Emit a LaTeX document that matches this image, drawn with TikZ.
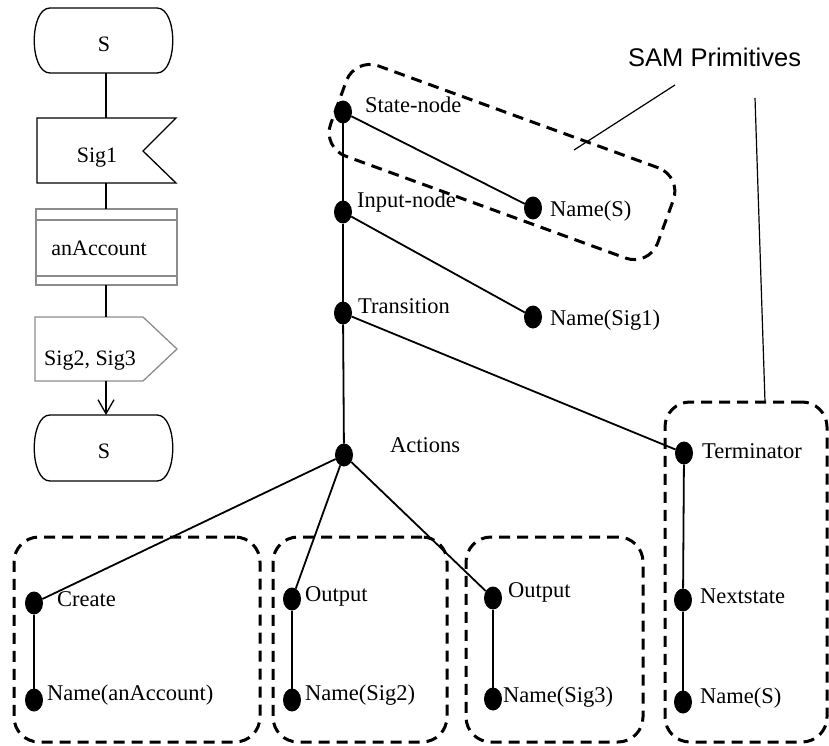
\documentclass[tikz,border=0pt]{standalone}
\usepackage{fontspec}
\setmainfont{Liberation Serif}
\newfontfamily\samsans{Liberation Sans}
\usetikzlibrary{shapes.geometric,arrows.meta}
\begin{document}
\begin{tikzpicture}[x=1pt,y=-1pt,
  dot/.style={ellipse, fill=black, minimum width=18pt, minimum height=23pt, inner sep=0pt, outer sep=0pt},
  lbl/.style={anchor=base west, inner sep=0pt, font=\fontsize{22.5}{27}\selectfont},
  tree/.style={line width=1.8pt},
  dashbox/.style={draw, dash pattern=on 11pt off 7pt, line width=3pt, rounded corners=25pt, inner sep=0pt, outer sep=0pt},
  sdl/.style={line width=1.3pt},
  sdlgray/.style={line width=1.3pt, draw=black!45},
  sdltxt/.style={anchor=base, inner sep=0pt, font=\fontsize{22}{26}\selectfont},
  pointer/.style={line width=1.2pt}
]
\useasboundingbox (0,0) rectangle (829,746);

% ---------------- SDL column ----------------
\draw[sdl] (50,8) -- (157,8) .. controls (178,8) and (178,73) .. (157,73) -- (50,73) .. controls (29,73) and (29,8) .. (50,8);
\node[sdltxt] (ts) at (104,52) {S};
\draw[sdl] (37,118) -- (176,118) -- (143,151) -- (176,183) -- (37,183) -- cycle;
\node[sdltxt] (tsig1) at (97,163) {Sig1};
\draw[sdlgray] (36,209) rectangle (177,285);
\draw[sdlgray] (36,220) -- (177,220);
\draw[sdlgray] (36,276) -- (177,276);
\node[sdltxt] (tacc) at (99,255) {anAccount};
\draw[sdlgray] (35,317) -- (143,317) -- (177,349) -- (143,381) -- (35,381) -- cycle;
\node[sdltxt] (tout) at (90,365) {Sig2, Sig3};
\draw[sdl] (50,415) -- (157,415) .. controls (178,415) and (178,481) .. (157,481) -- (50,481) .. controls (29,481) and (29,415) .. (50,415);
\node[sdltxt] (ts2) at (104,458) {S};

\coordinate (c1) at (106,73);
\coordinate (c2) at (106,118);
\coordinate (c3) at (106,183);
\coordinate (c4) at (106,209);
\coordinate (c5) at (106,285);
\coordinate (c6) at (106,317);
\coordinate (c7) at (106,381);
\coordinate (c8) at (106,415);
\draw[sdl] (c1) -- (c2);
\draw[sdl] (c3) -- (c4);
\draw[sdl] (c5) -- (c6);
\draw[sdl, -{Straight Barb[length=14pt,width=16pt,line width=1.3pt]}] (c7) -- (c8);

% ---------------- dashed SAM boxes ----------------
\node[dashbox, rotate=-20, minimum width=348pt, minimum height=96pt] (boxstate) at (502,162) {};
\node[dashbox, minimum width=246pt, minimum height=205pt] (box1) at (137,639.5) {};
\node[dashbox, minimum width=174pt, minimum height=205pt] (box2) at (360,639.5) {};
\node[dashbox, minimum width=177pt, minimum height=205pt] (box3) at (554.5,639.5) {};
\node[dashbox, minimum width=162pt, minimum height=340pt] (box4) at (746,572) {};

% ---------------- tree dots ----------------
\node[dot] (state) at (343,112) {};
\node[dot] (input) at (343,212) {};
\node[dot] (names) at (533,208) {};
\node[dot] (trans) at (343,313) {};
\node[dot] (namesig1) at (533,317) {};
\node[dot] (actions) at (344,455) {};
\node[dot] (term) at (684,453) {};
\node[dot] (next) at (683,600) {};
\node[dot] (names2) at (683,702) {};
\node[dot] (create) at (34,603) {};
\node[dot] (nameacc) at (34,700) {};
\node[dot] (out2) at (292,599) {};
\node[dot] (sig2) at (292,700) {};
\node[dot] (out3) at (493,598) {};
\node[dot] (sig3) at (493,699) {};

% ---------------- tree edges ----------------
\draw[tree] (state) -- (input);
\draw[tree] (input) -- (trans);
\draw[tree] (trans) -- (actions);
\draw[tree] (state) -- (names);
\draw[tree] (input) -- (namesig1);
\draw[tree] (trans) -- (term);
\draw[tree] (actions) -- (create);
\draw[tree] (actions) -- (out2);
\draw[tree] (actions) -- (out3);
\draw[tree] (term) -- (next);
\draw[tree] (next) -- (names2);
\draw[tree] (create) -- (nameacc);
\draw[tree] (out2) -- (sig2);
\draw[tree] (out3) -- (sig3);

% ---------------- labels ----------------
\node[lbl] (lstate) at (365,113) {State-node};
\node[lbl] (linput) at (357,207) {Input-node};
\node[lbl] (lnames) at (550,216) {Name(S)};
\node[lbl] (ltrans) at (358,313) {Transition};
\node[lbl] (lsig1) at (550,325) {Name(Sig1)};
\node[lbl] (lact) at (390,452) {Actions};
\node[lbl] (lterm) at (702,458) {Terminator};
\node[lbl] (lnext) at (700,603) {Nextstate};
\node[lbl] (lnames2) at (700,703) {Name(S)};
\node[lbl] (lout3) at (508,597) {Output};
\node[lbl] (lsig3) at (503,702) {Name(Sig3)};
\node[lbl] (lcreate) at (57,606) {Create};
\node[lbl] (lacc) at (47,700) {Name(anAccount)};
\node[lbl] (lout2) at (305,601) {Output};
\node[lbl] (lsig2) at (305,700) {Name(Sig2)};

% ---------------- SAM Primitives ----------------
\node[anchor=base west, inner sep=0pt, font=\samsans\fontsize{25.5}{30}\selectfont] (sam) at (628,67) {SAM Primitives};
\coordinate (p1a) at (675,85);
\coordinate (p1b) at (574,150);
\coordinate (p2a) at (755,98);
\coordinate (p2b) at (765,402);
\draw[pointer] (p1a) -- (p1b);
\draw[pointer] (p2a) -- (p2b);
\end{tikzpicture}
\end{document}
